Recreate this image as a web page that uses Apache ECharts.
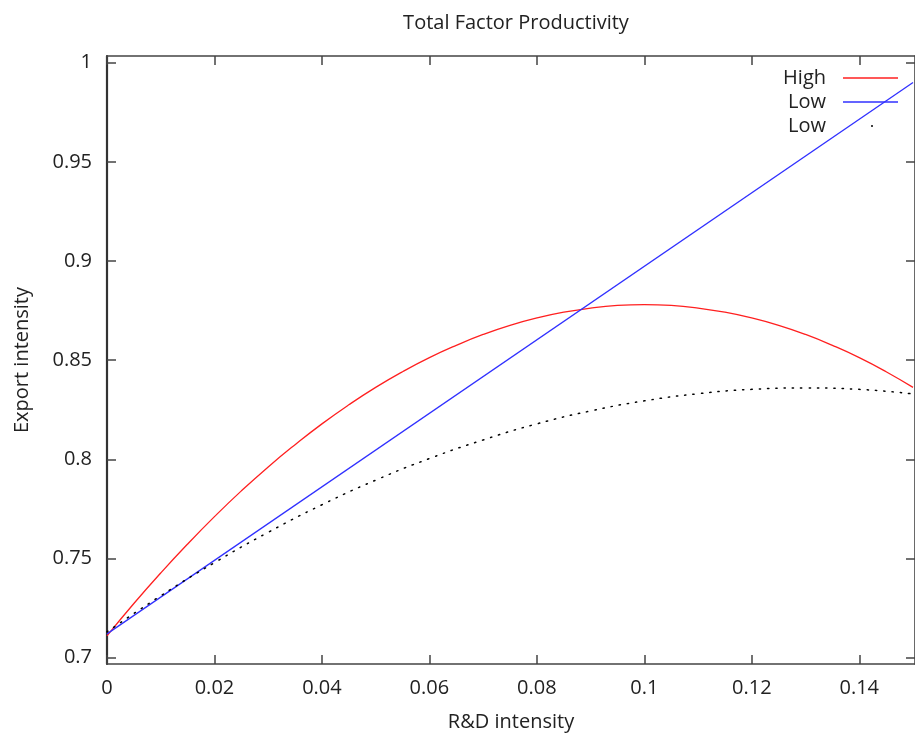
<!DOCTYPE html>
<html>
<head>
<meta charset="utf-8">
<script src="https://cdn.jsdelivr.net/npm/echarts@6/dist/echarts.min.js"></script>
<style>html,body{margin:0;padding:0;background:#fff;}#c{width:915px;height:740px;}</style>
</head>
<body>
<div id="c"></div>
<script>
var xTicks = [0, 0.02, 0.04, 0.06, 0.08, 0.1, 0.12, 0.14];
var yTicks = [0.7, 0.75, 0.8, 0.85, 0.9, 0.95, 1];
var highX = [0, 0.005, 0.01, 0.015, 0.02, 0.025, 0.03, 0.035, 0.04, 0.045, 0.05, 0.055, 0.06, 0.065, 0.07, 0.075, 0.08, 0.085, 0.09, 0.095, 0.1, 0.105, 0.11, 0.115, 0.12, 0.125, 0.13, 0.135, 0.14, 0.145, 0.15];
var highVals = [0.711, 0.7273, 0.7427, 0.7573, 0.7711, 0.7841, 0.7962, 0.8074, 0.8179, 0.8275, 0.8363, 0.8442, 0.8513, 0.8575, 0.8630, 0.8676, 0.8713, 0.8742, 0.8763, 0.8776, 0.878, 0.8776, 0.8763, 0.8742, 0.8713, 0.8676, 0.8630, 0.8575, 0.8513, 0.8442, 0.8363];
var lowLineX = [0, 0.15];
var lowLineVals = [0.712, 0.990];
var lowDotX = [0, 0.01, 0.02, 0.03, 0.04, 0.05, 0.06, 0.07, 0.08, 0.09, 0.1, 0.11, 0.12, 0.13, 0.14, 0.15];
var lowDotVals = [0.713, 0.7312, 0.7479, 0.7632, 0.7771, 0.7895, 0.8004, 0.8098, 0.8179, 0.8244, 0.8295, 0.8331, 0.8353, 0.836, 0.8353, 0.833];

function pairs(x, y) { return x.map(function (v, i) { return [v, y[i]]; }); }

var FONT = 'Open Sans';
var FS = 20;
var axisCol = '#444';
var txtCol = '#222';
var RED = '#ff2020', BLUE = '#3030ff';
var XMAX = 0.15037;

function legendBox(name, top, right, icon, w, h, color, padRight) {
  return {
    orient: 'horizontal', right: right, top: top, bottom: 'auto', left: 'auto', padding: 0, align: 'right',
    itemWidth: w, itemHeight: h, icon: icon, selectedMode: false,
    textStyle: {fontFamily: FONT, fontSize: FS, color: txtCol, lineHeight: 20, padding: [0, padRight, 0, 0]},
    data: [{name: name, itemStyle: {color: color, borderWidth: 0}}],
    formatter: function (n) { return n.trim(); }
  };
}

var chart = echarts.init(document.getElementById('c'), null, {renderer: 'canvas'});
chart.setOption({
  animation: false,
  title: {
    text: 'Total Factor Productivity', left: 511, top: 8, textAlign: 'center',
    textStyle: {fontFamily: FONT, fontSize: FS, fontWeight: 'normal', color: txtCol}
  },
  grid: {left: 107, top: 56, width: 812, height: 608, containLabel: false},
  legend: [
    legendBox('High', 68, 17, 'rect', 55, 1.5, RED, 12),
    legendBox('Low', 92, 17, 'rect', 55, 1.5, BLUE, 12),
    legendBox('Low ', 116, 42, 'circle', 2, 2, '#000', 40)
  ],
  xAxis: [{
    type: 'value', min: 0, max: XMAX, position: 'bottom',
    name: 'R&D intensity', nameLocation: 'middle', nameGap: 48,
    nameTextStyle: {fontFamily: FONT, fontSize: FS, color: txtCol},
    axisLine: {show: true, onZero: false, lineStyle: {color: axisCol, width: 1.6}},
    axisTick: {show: true, inside: true, length: 9, customValues: xTicks, lineStyle: {color: axisCol, width: 1.5}},
    axisLabel: {customValues: xTicks, margin: 14, fontFamily: FONT, fontSize: FS, color: txtCol,
      formatter: function (v) { return String(+v.toFixed(4)); }},
    splitLine: {show: false}
  }, {
    type: 'value', min: 0, max: XMAX, position: 'top',
    axisLine: {show: true, onZero: false, lineStyle: {color: axisCol, width: 1.6}},
    axisTick: {show: true, inside: true, length: 9, customValues: xTicks, lineStyle: {color: axisCol, width: 1.5}},
    axisLabel: {show: false}, splitLine: {show: false}
  }],
  yAxis: [{
    type: 'value', min: 0.6968, max: 1.0034, position: 'left',
    name: 'Export intensity', nameLocation: 'middle', nameGap: 75, nameRotate: 90,
    nameTextStyle: {fontFamily: FONT, fontSize: FS, color: txtCol},
    axisLine: {show: true, onZero: false, lineStyle: {color: '#333', width: 2.2}},
    axisTick: {show: true, inside: true, length: 9, customValues: yTicks, lineStyle: {color: axisCol, width: 1.5}},
    axisLabel: {customValues: yTicks, margin: 15, fontFamily: FONT, fontSize: FS, color: txtCol,
      formatter: function (v) { return String(+v.toFixed(4)); }},
    splitLine: {show: false}
  }, {
    type: 'value', min: 0.6968, max: 1.0034, position: 'right',
    axisLine: {show: true, onZero: false, lineStyle: {color: axisCol, width: 1.6}},
    axisTick: {show: true, inside: true, length: 9, customValues: yTicks, lineStyle: {color: axisCol, width: 1.5}},
    axisLabel: {show: false}, splitLine: {show: false}
  }],
  series: [{
    name: 'High', type: 'line', smooth: true, showSymbol: false, symbol: 'none',
    data: pairs(highX, highVals), clip: true,
    lineStyle: {color: RED, width: 1.3}, itemStyle: {color: RED}
  }, {
    name: 'Low', type: 'line', showSymbol: false, symbol: 'none',
    data: pairs(lowLineX, lowLineVals), clip: true,
    lineStyle: {color: BLUE, width: 1.3}, itemStyle: {color: BLUE}
  }, {
    name: 'Low ', type: 'line', smooth: true, showSymbol: false, symbol: 'none',
    data: pairs(lowDotX, lowDotVals), clip: true,
    lineStyle: {color: '#000', width: 1.5, type: [1.3, 7], cap: 'round'}, itemStyle: {color: '#000'}
  }]
});
</script>
</body>
</html>
